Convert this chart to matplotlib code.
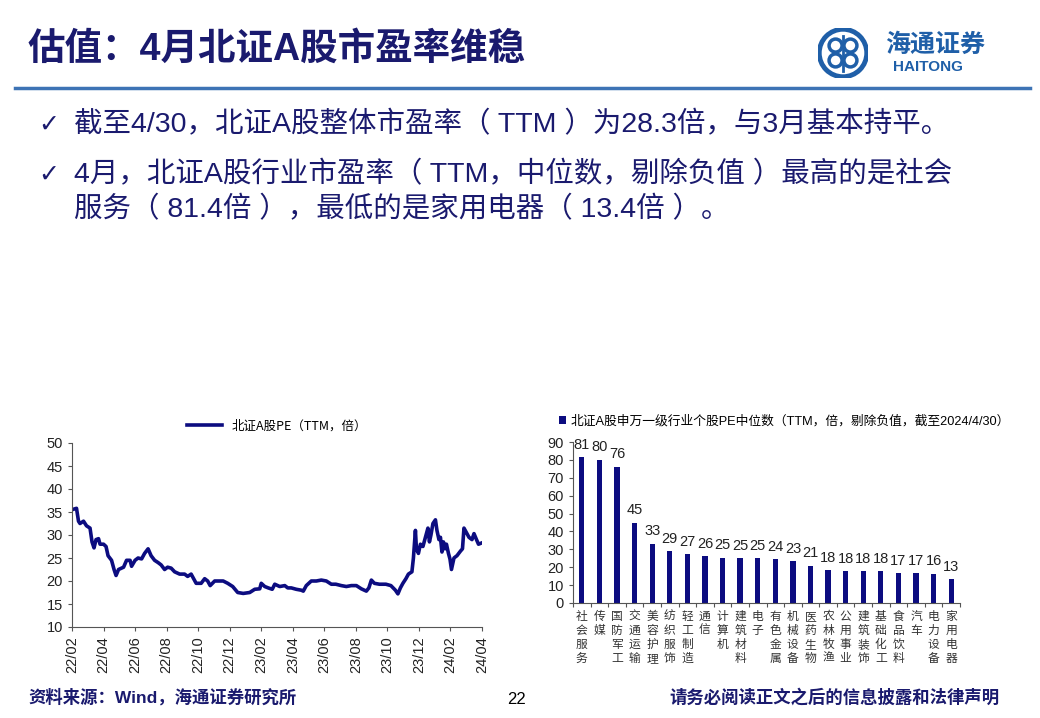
import matplotlib
matplotlib.use("Agg")
import matplotlib.pyplot as plt
import matplotlib.dates as mdates
import matplotlib.patches as mpatches
import numpy as np
import pandas as pd

plt.rcParams['font.family'] = ['Liberation Sans', 'Noto Sans CJK SC', 'DejaVu Sans']
CJK = ['Noto Sans CJK SC', 'DejaVu Sans']
MIX = ['Liberation Sans', 'Noto Sans CJK SC', 'DejaVu Sans']

NAVY = '#1a1a6e'
LINE = '#0c0c80'

# ---- data: 北证A股 PE (TTM) ----
pe_dates = [
    '2022-02-01', '2022-02-10', '2022-02-14', '2022-02-17', '2022-02-24', '2022-03-02',
    '2022-03-09', '2022-03-13', '2022-03-17', '2022-03-21', '2022-03-26', '2022-03-29',
    '2022-04-05', '2022-04-10', '2022-04-14', '2022-04-21', '2022-04-26', '2022-04-30',
    '2022-05-05', '2022-05-15', '2022-05-21', '2022-05-28', '2022-05-31', '2022-06-07',
    '2022-06-13', '2022-06-20', '2022-06-26', '2022-07-03', '2022-07-09', '2022-07-16',
    '2022-07-23', '2022-07-29', '2022-08-05', '2022-08-11', '2022-08-18', '2022-08-25',
    '2022-09-04', '2022-09-14', '2022-09-20', '2022-09-27', '2022-10-07', '2022-10-17',
    '2022-10-24', '2022-10-30', '2022-11-04', '2022-11-13', '2022-11-22', '2022-11-30',
    '2022-12-09', '2022-12-19', '2022-12-29', '2023-01-09', '2023-01-22', '2023-02-01',
    '2023-02-11', '2023-02-14', '2023-02-21', '2023-02-28', '2023-03-08', '2023-03-13',
    '2023-03-23', '2023-04-02', '2023-04-08', '2023-04-15', '2023-04-25', '2023-05-05',
    '2023-05-09', '2023-05-15', '2023-05-25', '2023-06-04', '2023-06-14', '2023-06-24',
    '2023-07-04', '2023-07-13', '2023-07-24', '2023-08-03', '2023-08-13', '2023-08-23',
    '2023-09-02', '2023-09-12', '2023-09-17', '2023-09-22', '2023-09-28', '2023-10-08',
    '2023-10-21', '2023-10-31', '2023-11-09', '2023-11-14', '2023-11-19', '2023-11-24',
    '2023-11-30', '2023-12-05', '2023-12-12', '2023-12-15', '2023-12-19', '2023-12-21',
    '2023-12-25', '2023-12-29', '2024-01-03', '2024-01-08', '2024-01-13', '2024-01-16',
    '2024-01-19', '2024-01-23', '2024-01-28', '2024-01-31', '2024-02-04', '2024-02-07',
    '2024-02-10', '2024-02-13', '2024-02-16', '2024-02-19', '2024-02-23', '2024-02-26',
    '2024-02-29', '2024-03-05', '2024-03-11', '2024-03-18', '2024-03-22', '2024-03-25',
    '2024-03-30', '2024-04-04', '2024-04-10', '2024-04-14', '2024-04-19', '2024-04-23',
    '2024-04-30',
]
pe_values = [
    35.5, 35.8, 33.0, 32.5, 33.0, 32.0,
    31.5, 28.5, 27.2, 29.0, 29.2, 28.0,
    28.0, 27.5, 25.5, 24.5, 22.5, 21.2,
    22.5, 23.0, 24.5, 24.5, 23.2, 24.5,
    25.0, 24.8, 26.0, 27.0, 25.5, 24.5,
    24.0, 23.5, 22.5, 23.0, 22.8, 22.0,
    21.5, 21.5, 21.0, 21.5, 19.5, 19.5,
    20.5, 20.0, 19.0, 20.0, 20.0, 20.0,
    19.5, 18.8, 17.5, 17.3, 17.5, 18.2,
    18.3, 19.5, 18.8, 18.5, 18.2, 19.3,
    18.8, 19.0, 18.5, 18.5, 18.2, 18.0,
    17.8, 19.0, 20.0, 20.0, 20.2, 20.0,
    19.3, 19.3, 19.0, 18.8, 19.0, 19.0,
    18.3, 17.8, 18.5, 20.2, 19.5, 19.3,
    19.3, 19.0, 18.0, 17.2, 18.5, 19.5,
    20.5, 21.5, 22.0, 25.0, 31.0, 27.0,
    26.0, 28.0, 27.5, 29.5, 31.5, 28.5,
    30.0, 32.5, 33.3, 31.0, 29.0, 29.5,
    26.3, 28.5, 27.0, 28.0, 26.0, 24.8,
    22.5, 25.0, 25.5, 26.5, 27.0, 31.5,
    30.5, 29.5, 29.0, 30.3, 29.0, 28.0,
    28.3,
]
pe_ticklabels = ['22/02', '22/04', '22/06', '22/08', '22/10', '22/12', '23/02',
                 '23/04', '23/06', '23/08', '23/10', '23/12', '24/02', '24/04']

# ---- data: 申万一级行业个股PE中位数 ----
industries = ['社会服务', '传媒', '国防军工', '交通运输', '美容护理', '纺织服饰', '轻工制造',
              '通信', '计算机', '建筑材料', '电子', '有色金属', '机械设备', '医药生物',
              '农林牧渔', '公用事业', '建筑装饰', '基础化工', '食品饮料', '汽车',
              '电力设备', '家用电器']
ind_pe = [81.4, 80.2, 76.3, 44.8, 33.2, 28.8, 27.3, 26.2, 25.4, 25.2, 25.1, 24.4,
          23.4, 20.9, 18.2, 17.9, 17.8, 17.7, 16.8, 16.8, 16.3, 13.4]

W, H = 1040, 718
fig = plt.figure(figsize=(W / 100, H / 100), dpi=100)


def fx(px):
    return px / W


def fy(py):
    return 1 - py / H


# ---- header ----
fig.text(fx(28), fy(50), '估值：4月北证A股市盈率维稳', family=MIX, fontsize=27,
         fontweight='bold', color=NAVY, va='center', ha='left')
fig.add_artist(plt.Line2D([fx(15), fx(1030)], [fy(88), fy(88)], color='#3d73b5', lw=2.5))

# logo
logo = fig.add_axes([fx(818), fy(78), fx(50), 50 / H])
logo.set_xlim(-1, 1)
logo.set_ylim(-1, 1)
logo.set_aspect('equal')
logo.axis('off')
logo.add_patch(mpatches.Circle((0, 0), 0.95, fc='none', ec='#1f5fa8', lw=3.5))
for ang in [45, 135, 225, 315]:
    a = np.deg2rad(ang)
    logo.add_patch(mpatches.Circle((0.42 * np.cos(a), 0.42 * np.sin(a)), 0.26,
                                   fc='none', ec='#1f5fa8', lw=2.5))
logo.plot([0, 0], [-0.7, 0.7], color='#1f5fa8', lw=2)
fig.text(fx(935), fy(45), '海通证券', family=CJK, fontsize=18, fontweight='bold',
         style='italic', color='#1f5fa8', ha='center', va='center')
fig.text(fx(928), fy(67), 'HAITONG', family=MIX, fontsize=11, fontweight='bold',
         color='#1f5fa8', ha='center', va='center')

# ---- bullets ----
bullets = [
    (125, '截至4/30，北证A股整体市盈率（ TTM ）为28.3倍，与3月基本持平。', True),
    (175, '4月，北证A股行业市盈率（ TTM，中位数，剔除负值 ）最高的是社会', True),
    (210, '服务（ 81.4倍 ），最低的是家用电器（ 13.4倍 ）。', False),
]
for y, txt, tick in bullets:
    if tick:
        fig.text(fx(38), fy(y), '✓', family=['DejaVu Sans'], fontsize=18,
                 fontweight='bold', color=NAVY, va='center', ha='left')
    fig.text(fx(74), fy(y), txt, family=MIX, fontsize=20.5, color=NAVY,
             va='center', ha='left')

# ---- line chart ----
ax1 = fig.add_axes([fx(72), fy(627), fx(410), 184 / H])
dates = pd.to_datetime(pe_dates)
ax1.plot(dates, pe_values, color=LINE, lw=2.6, label='北证A股PE（TTM，倍）')
ax1.set_ylim(10, 50)
ax1.set_yticks(np.arange(10, 51, 5))
ax1.set_xlim(dates[0], dates[-1])
tick_pos = np.linspace(mdates.date2num(dates[0]), mdates.date2num(dates[-1]),
                       len(pe_ticklabels))
ax1.set_xticks(tick_pos)
ax1.set_xticklabels(pe_ticklabels, rotation=90, family=MIX, fontsize=10.5)
for s in ['top', 'right']:
    ax1.spines[s].set_visible(False)
for s in ['left', 'bottom']:
    ax1.spines[s].set_color('#555555')
ax1.tick_params(axis='both', direction='out', length=3, color='#555555',
                labelsize=10.5, labelcolor='#222222')
ax1.legend(loc='lower center', bbox_to_anchor=(0.5, 1.03), frameon=False,
           prop={'family': CJK, 'size': 9}, handlelength=2.8, borderaxespad=0)

# ---- bar chart ----
ax2 = fig.add_axes([fx(573), fy(603), fx(387), 161 / H])
xs = np.arange(len(industries))
bars = ax2.bar(xs, ind_pe, width=0.3, color='#0c0c80',
               label='北证A股申万一级行业个股PE中位数（TTM，倍，剔除负值，截至2024/4/30）')
for x, v in zip(xs, ind_pe):
    ax2.text(x, v + 3, f'{v:.0f}', ha='center', va='bottom', fontsize=10.5,
             family=MIX, color='#222222')
ax2.set_xlim(-0.5, len(industries) - 0.5)
ax2.set_ylim(0, 90)
ax2.set_yticks(np.arange(0, 91, 10))
ax2.set_xticks(np.arange(-0.5, len(industries), 1.0))
ax2.set_xticklabels([])
ax2.set_xticks(xs, minor=True)
ax2.set_xticklabels(['\n'.join(n) for n in industries], minor=True, family=CJK,
                    fontsize=8.5, color='#333333', linespacing=1.1, va='top')
ax2.tick_params(axis='x', which='minor', length=0, pad=5)
ax2.tick_params(axis='x', which='major', direction='out', length=3, color='#555555')
ax2.tick_params(axis='y', direction='out', length=3, color='#555555',
                labelsize=10.5, labelcolor='#222222')
for s in ['top', 'right']:
    ax2.spines[s].set_visible(False)
for s in ['left', 'bottom']:
    ax2.spines[s].set_color('#555555')
ax2.legend(loc='lower left', bbox_to_anchor=(-0.05, 1.06), frameon=False,
           prop={'family': MIX, 'size': 9.2}, handlelength=0.6, handleheight=0.6,
           handletextpad=0.3, borderaxespad=0)

# ---- footer ----
fig.text(fx(28), fy(697), '资料来源：Wind，海通证券研究所', family=MIX, fontsize=12.5,
         fontweight='bold', color=NAVY, va='center', ha='left')
fig.text(fx(516), fy(700), '22', family=MIX, fontsize=12, color='black',
         va='center', ha='center')
fig.text(fx(1000), fy(697), '请务必阅读正文之后的信息披露和法律声明', family=MIX,
         fontsize=12.5, fontweight='bold', color=NAVY, va='center', ha='right')

fig.savefig('out.png', dpi=100)
